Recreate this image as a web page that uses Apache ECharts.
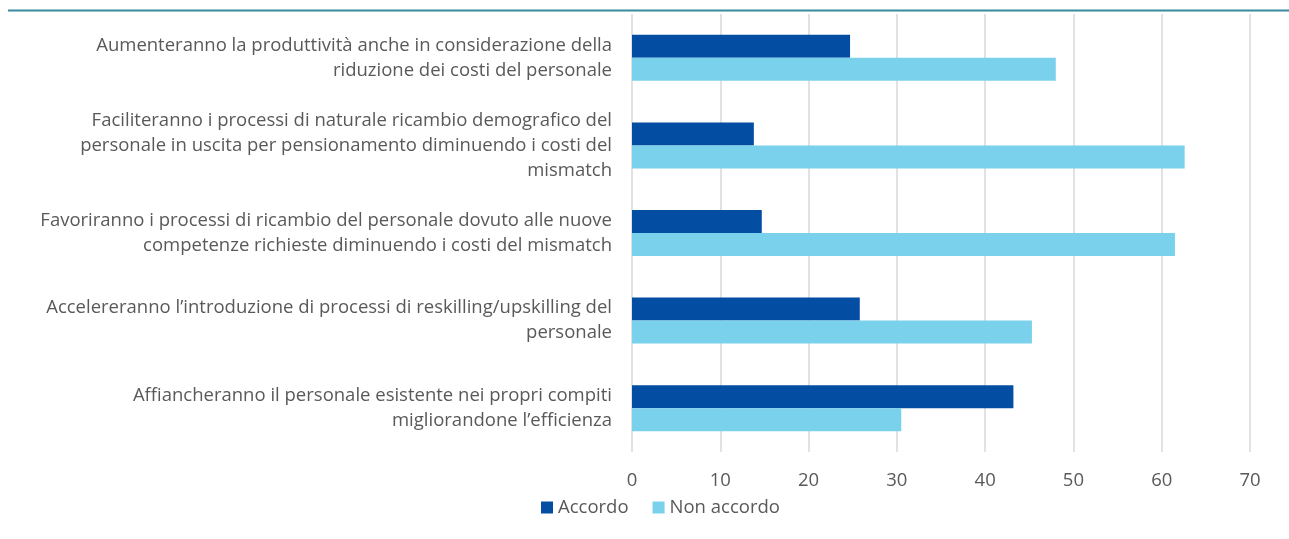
<!DOCTYPE html>
<html style="height: 100%">
<head>
    <meta charset="utf-8">
    <title>Accordo / Non accordo</title>
</head>
<body style="height: 100%; margin: 0">
<div id="container" style="width: 1289px; height: 539px"></div>

<script src="https://cdn.jsdelivr.net/npm/echarts@6/dist/echarts.min.js"></script>
<script type="text/javascript">
    // categorie dal basso verso l'alto (asse y category parte dal basso)
    var categorie = [
        'Affiancheranno il personale esistente nei propri compiti\nmigliorandone l\u2019efficienza',
        'Accelereranno l\u2019introduzione di processi di reskilling/upskilling del\npersonale',
        'Favoriranno i processi di ricambio del personale dovuto alle nuove\ncompetenze richieste diminuendo i costi del mismatch',
        'Faciliteranno i processi di naturale ricambio demografico del\npersonale in uscita per pensionamento diminuendo i costi del\nmismatch',
        'Aumenteranno la produttività anche in considerazione della\nriduzione dei costi del personale'
    ];
    var accordo = [43.2, 25.8, 14.7, 13.8, 24.7];
    var nonAccordo = [30.5, 45.3, 61.5, 62.6, 48.0];
    var tickX = [0, 10, 20, 30, 40, 50, 60, 70];

    var font = '"Open Sans", "Noto Sans", sans-serif';
    var fs = 18.5;
    var myChart = echarts.init(document.getElementById('container'));

    var option = {
        backgroundColor: '#ffffff',
        animation: false,
        textStyle: { fontFamily: font },
        graphic: [{
            type: 'line',
            shape: { x1: 8, y1: 10.5, x2: 1289, y2: 10.5 },
            style: { stroke: '#3a8a9e', lineWidth: 2 }
        }],
        legend: {
            top: 493,
            left: 536,
            itemWidth: 12,
            itemHeight: 12,
            itemGap: 24,
            icon: 'rect',
            textStyle: { color: '#595959', fontSize: fs, fontFamily: font },
            data: ['Accordo', 'Non accordo']
        },
        grid: {
            left: 632,
            right: 39,
            top: 14,
            bottom: 87
        },
        xAxis: {
            type: 'value',
            min: tickX[0],
            max: tickX[tickX.length - 1],
            interval: 10,
            axisLine: { show: false },
            axisTick: { show: false },
            axisLabel: { color: '#595959', fontSize: fs, margin: 19, fontFamily: font },
            splitLine: { lineStyle: { color: '#d9d9d9', width: 1.5 } }
        },
        yAxis: {
            type: 'category',
            data: categorie,
            axisLine: { show: false },
            axisTick: { show: false },
            axisLabel: {
                color: '#595959',
                fontSize: fs,
                lineHeight: 25,
                margin: 20,
                align: 'right',
                fontFamily: font
            }
        },
        series: [
            {
                name: 'Accordo',
                type: 'bar',
                data: accordo,
                barWidth: 23,
                barGap: '0%',
                itemStyle: { color: '#034ea2' }
            },
            {
                name: 'Non accordo',
                type: 'bar',
                data: nonAccordo,
                barWidth: 23,
                barGap: '0%',
                itemStyle: { color: '#7ad1ec' }
            }
        ]
    };
    myChart.setOption(option);
</script>
</body>
</html>
